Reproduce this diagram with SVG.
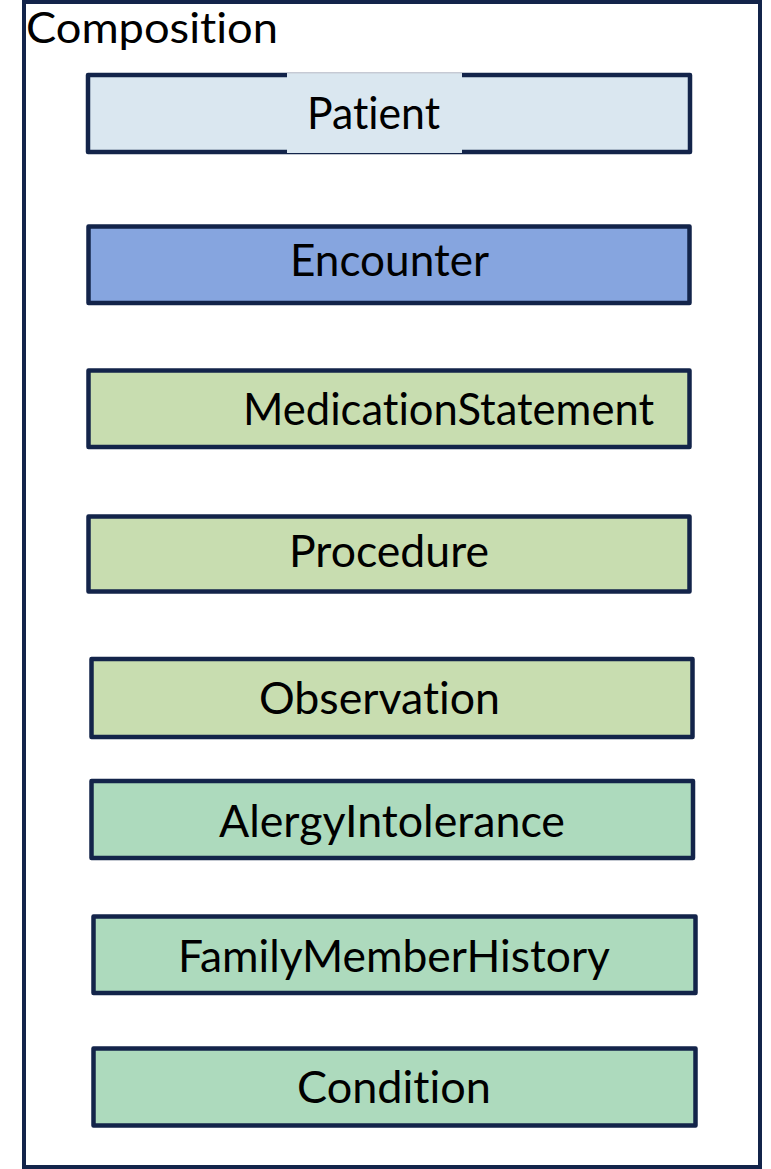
<svg xmlns="http://www.w3.org/2000/svg" width="771" height="1169" viewBox="0 0 771 1169">
  <style>
    .frame { fill: #ffffff; stroke: #13244A; stroke-width: 4; }
    .box { stroke: #13244A; stroke-width: 4.5; stroke-linejoin: round; }
    .lt { fill: #DAE7F0; }
    .enc { fill: #86A5DF; }
    .grn { fill: #C8DDB0; }
    .teal { fill: #ADDABD; }
    .lbl { font-family: Lato, "Open Sans", "DejaVu Sans", sans-serif; font-size: 44px; fill: #000000; text-anchor: middle; font-variant-ligatures: none; font-feature-settings: "liga" 0, "clig" 0; }
    .title { font-family: Lato, "Open Sans", "DejaVu Sans", sans-serif; font-size: 43px; fill: #000000; font-variant-ligatures: none; font-feature-settings: "liga" 0, "clig" 0; }
  </style>
  <rect width="771" height="1169" fill="#ffffff"/>
  <g id="composition">
    <rect class="frame" x="24" y="2" width="736" height="1165"/>
    <text class="title" x="26" y="42.5" textLength="252" lengthAdjust="spacingAndGlyphs">Composition</text>
  </g>
  <g id="connectors"></g>
  <g id="patient">
    <rect class="box lt" x="88" y="75" width="602" height="77"/>
    <rect x="287" y="73" width="175" height="80" fill="#DAE7F0"/>
    <line x1="287" y1="73" x2="462" y2="73" stroke="#C8CDD6" stroke-width="1"/>
    <text class="lbl" x="373.5" y="129" textLength="133" lengthAdjust="spacingAndGlyphs">Patient</text>
  </g>
  <g id="encounter">
    <rect class="box enc" x="88.5" y="226.5" width="601" height="76.5"/>
    <text class="lbl" x="389.5" y="276" textLength="199" lengthAdjust="spacingAndGlyphs">Encounter</text>
  </g>
  <g id="medicationstatement">
    <rect class="box grn" x="88.5" y="370.5" width="601" height="76.5"/>
    <text class="lbl" x="448.5" y="425" textLength="411" lengthAdjust="spacingAndGlyphs">MedicationStatement</text>
  </g>
  <g id="procedure">
    <rect class="box grn" x="88.5" y="516.5" width="601" height="75"/>
    <text class="lbl" x="389" y="567" textLength="200" lengthAdjust="spacingAndGlyphs">Procedure</text>
  </g>
  <g id="observation">
    <rect class="box grn" x="91.5" y="659" width="601" height="78"/>
    <text class="lbl" x="379.5" y="714" textLength="241" lengthAdjust="spacingAndGlyphs">Observation</text>
  </g>
  <g id="alergyintolerance">
    <rect class="box teal" x="91.5" y="781" width="601.5" height="77"/>
    <text class="lbl" x="392" y="837" textLength="346" lengthAdjust="spacingAndGlyphs">AlergyIntolerance</text>
  </g>
  <g id="familymemberhistory">
    <rect class="box teal" x="93.5" y="916.5" width="602" height="76.5"/>
    <text class="lbl" x="394" y="972" textLength="432" lengthAdjust="spacingAndGlyphs">FamilyMemberHistory</text>
  </g>
  <g id="condition">
    <rect class="box teal" x="93.5" y="1048.5" width="602" height="77"/>
    <text class="lbl" x="394" y="1103" textLength="194" lengthAdjust="spacingAndGlyphs">Condition</text>
  </g>
</svg>
